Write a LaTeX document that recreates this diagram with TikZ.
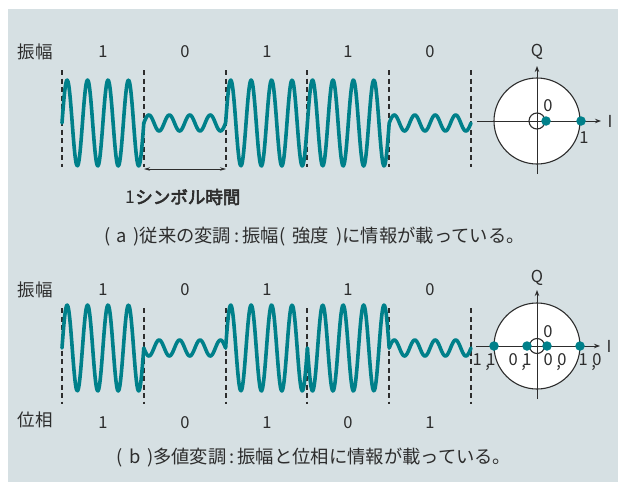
\documentclass[tikz,border=0pt]{standalone}
\usepackage{fontspec}
\setmainfont{Noto Sans CJK JP}
\newfontfamily\boldjp[FakeBold=3.5]{Noto Sans CJK JP}
\usetikzlibrary{arrows.meta}
\definecolor{bgcol}{RGB}{214,224,227}
\definecolor{wavecol}{RGB}{0,128,138}
\definecolor{ink}{RGB}{45,45,45}
\begin{document}
\begin{tikzpicture}[x=1pt,y=-1pt,
  lbl/.style={font=\fontsize{16.5}{18}\selectfont, text=ink, inner sep=0pt},
  jplbl/.style={font=\fontsize{17.5}{19}\selectfont, text=ink, inner sep=0pt},
  captxt/.style={font=\fontsize{18.3}{20}\selectfont, text=ink, inner sep=0pt},
  wave/.style={wavecol, line width=3.6pt, line cap=round, line join=round},
  divider/.style={ink, line width=1.25pt, dash pattern=on 5pt off 3.5pt},
  axisline/.style={ink, line width=1pt, -{Stealth[length=6pt,width=4.5pt]}},
  ring/.style={ink, line width=1.1pt},
  dotpt/.style={circle, fill=wavecol, minimum size=9.5pt, inner sep=0pt}]
\useasboundingbox (0,0) rectangle (618,482);
\fill[bgcol] (8,9) rectangle (618,482);

% ---------- panel (a) ----------
\node[jplbl] (ampA) at (35,52) {振幅};
\foreach \xc/\b [count=\n] in {103/1,185/0,267/1,348/1,430/0}
  \node[lbl] (bitA\n) at (\xc,52) {\b};
\foreach \xd [count=\n] in {62,144,226,307,389,471}{
  \coordinate (dAt\n) at (\xd,70);
  \coordinate (dAb\n) at (\xd,167);
  \draw[divider] (dAt\n) -- (dAb\n);
}
\foreach \xa/\A/\s [evaluate=\xa as \xb using \xa+81.8] in {62/43/1,143.8/8/1,225.6/43/1,307.4/43/1,389.2/8/1}
  \draw[wave] plot[domain=\xa:\xb, samples=110, smooth] (\x,{123-\s*\A*sin(17.604*(\x-\xa))});
\coordinate (arL) at (144,169);
\coordinate (arR) at (226,169);
\draw[ink, line width=0.8pt, {Stealth[length=6pt,width=3.5pt]}-{Stealth[length=6pt,width=3.5pt]}] (arL) -- (arR);
\node[jplbl] (symtime) at (183,197) {1{\boldjp シンボル時間}};
\node[captxt] (capA) at (314.5,237) {(\hspace{0.35em}a\hspace{0.35em})従来の変調\,:\,振幅(\hspace{0.4em}強度\hspace{0.4em})に情報が載っている。};

% constellation (a)
\coordinate (cA) at (537,121);
\fill[white] (cA) circle[radius=43];
\draw[ring] (cA) circle[radius=43];
\coordinate (hAl) at (477,121);
\coordinate (hAr) at (601,121);
\coordinate (vAb) at (537,174);
\coordinate (vAt) at (537,66);
\draw[axisline] (hAl) -- (hAr);
\draw[axisline] (vAb) -- (vAt);
\draw[ring] (cA) circle[radius=8];
\node[dotpt] (pA0) at (546,121) {};
\node[dotpt] (pA1) at (581,121) {};
\node[lbl] (lA0) at (548,106) {0};
\node[lbl] (lA1) at (584,138) {1};
\node[lbl] (QA) at (537,52) {Q};
\node[lbl] (IA) at (610,121) {I};

% ---------- panel (b) ----------
\node[jplbl] (ampB) at (35,290) {振幅};
\foreach \xc/\b [count=\n] in {103/1,185/0,267/1,348/1,430/0}
  \node[lbl] (bitB\n) at (\xc,290) {\b};
\node[jplbl] (phB) at (35,420) {位相};
\foreach \xc/\b [count=\n] in {103/1,185/0,267/1,348/0,430/1}
  \node[lbl] (phbit\n) at (\xc,423) {\b};
\foreach \xd [count=\n] in {62,144,226,307,389,471}{
  \coordinate (dBt\n) at (\xd,308);
  \coordinate (dBb\n) at (\xd,404);
  \draw[divider] (dBt\n) -- (dBb\n);
}
\foreach \xa/\A/\s [evaluate=\xa as \xb using \xa+81.8] in {62/43/1,143.8/8/-1,225.6/43/1,307.4/43/-1,389.2/8/1}
  \draw[wave] plot[domain=\xa:\xb, samples=110, smooth] (\x,{348-\s*\A*sin(17.604*(\x-\xa))});
\node[captxt] (capB) at (314,458) {(\hspace{0.35em}b\hspace{0.35em})多値変調\,:\,振幅と位相に情報が載っている。};

% constellation (b)
\coordinate (cB) at (537,346);
\fill[white] (cB) circle[radius=43];
\draw[ring] (cB) circle[radius=43];
\coordinate (hBl) at (476,346);
\coordinate (hBr) at (600,346);
\coordinate (vBb) at (537,399);
\coordinate (vBt) at (537,290);
\draw[axisline] (hBl) -- (hBr);
\draw[axisline] (vBb) -- (vBt);
\draw[ring] (cB) circle[radius=7.5];
\node[dotpt] (pB11) at (494,346) {};
\node[dotpt] (pB01) at (527,346) {};
\node[dotpt] (pB00) at (547,346) {};
\node[dotpt] (pB10) at (580,346) {};
\node[lbl] (lB0) at (548,332) {0};
\node[lbl] (lB11) at (484,362) {1\hspace{0.28em}\rlap{\kern-0.05em\raisebox{-0.2ex}{,}}1};
\node[lbl] (lB01) at (520,362) {0\hspace{0.28em}\rlap{\kern-0.05em\raisebox{-0.2ex}{,}}1};
\node[lbl] (lB00) at (555,362) {0\hspace{0.28em}\rlap{\kern-0.05em\raisebox{-0.2ex}{,}}0};
\node[lbl] (lB10) at (590,362) {1\hspace{0.28em}\rlap{\kern-0.05em\raisebox{-0.2ex}{,}}0};
\node[lbl] (QB) at (537,278) {Q};
\node[lbl] (IB) at (609,346) {I};
\end{tikzpicture}
\end{document}
